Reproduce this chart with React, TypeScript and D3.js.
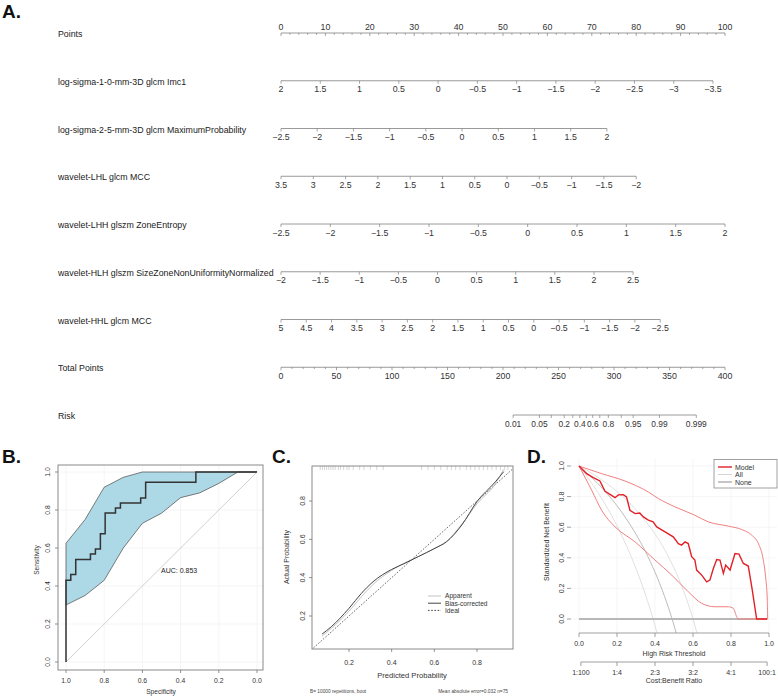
import React from 'react';
import * as d3 from 'd3';

// ---------- nomogram (A) ----------
const nomoLabels = [
  'Points',
  'log-sigma-1-0-mm-3D glcm Imc1',
  'log-sigma-2-5-mm-3D glcm MaximumProbability',
  'wavelet-LHL glcm MCC',
  'wavelet-LHH glszm ZoneEntropy',
  'wavelet-HLH glszm SizeZoneNonUniformityNormalized',
  'wavelet-HHL glcm MCC',
  'Total Points',
  'Risk',
];
const imc1Ticks = [2, 1.5, 1, 0.5, 0, -0.5, -1, -1.5, -2, -2.5, -3, -3.5];
const maxProbTicks = [-2.5, -2, -1.5, -1, -0.5, 0, 0.5, 1, 1.5, 2];
const lhlMccTicks = [3.5, 3, 2.5, 2, 1.5, 1, 0.5, 0, -0.5, -1, -1.5, -2];
const zoneEntTicks = [-2.5, -2, -1.5, -1, -0.5, 0, 0.5, 1, 1.5, 2];
const sznunTicks = [-2, -1.5, -1, -0.5, 0, 0.5, 1, 1.5, 2, 2.5];
const hhlMccTicks = [5, 4.5, 4, 3.5, 3, 2.5, 2, 1.5, 1, 0.5, 0, -0.5, -1, -1.5, -2, -2.5];
const varTicks = [imc1Ticks, maxProbTicks, lhlMccTicks, zoneEntTicks, sznunTicks, hhlMccTicks];
const varMaxPoints = [97.3, 73.4, 80.0, 100, 79.3, 85.4];
const pointsTicks = d3.range(0, 101, 10);
const totalTicks = d3.range(0, 401, 50);
const riskTicks = [0.01, 0.05, 0.1, 0.2, 0.3, 0.4, 0.5, 0.6, 0.7, 0.8, 0.9, 0.95, 0.99, 0.999];
const riskLabels = [0.01, 0.05, 0.2, 0.4, 0.6, 0.8, 0.95, 0.99, 0.999];
const riskLp = { intercept: -19.17, slope: 0.0697 };

// ---------- ROC (B) ----------
const rocSpec = [1, 1, 0.975, 0.975, 0.949, 0.949, 0.872, 0.872, 0.846, 0.846, 0.82, 0.82, 0.795, 0.795, 0.741, 0.741, 0.715, 0.715, 0.609, 0.609, 0.583, 0.583, 0.32, 0.32, 0];
const rocSens = [0, 0.43, 0.43, 0.46, 0.46, 0.54, 0.54, 0.568, 0.568, 0.595, 0.595, 0.675, 0.675, 0.784, 0.784, 0.81, 0.81, 0.837, 0.837, 0.863, 0.863, 0.946, 0.946, 1, 1];
const ciSpec = [1, 0.9, 0.8, 0.7, 0.6, 0.5, 0.4, 0.3, 0.2, 0.1, 0];
const ciUpper = [0.625, 0.75, 0.92, 0.972, 1, 1, 1, 1, 1, 1, 1];
const ciLower = [0.3, 0.35, 0.43, 0.6, 0.73, 0.783, 0.865, 0.89, 0.94, 1, 1];
const aucText = 'AUC: 0.853';

// ---------- calibration (C) ----------
const calPred = [0.074, 0.117, 0.2, 0.258, 0.313, 0.4, 0.462, 0.525, 0.603, 0.658, 0.729, 0.8, 0.886, 0.925];
const calBias = [0.106, 0.144, 0.24, 0.318, 0.379, 0.443, 0.475, 0.51, 0.553, 0.588, 0.675, 0.797, 0.9, 0.953];
const calApparent = [0.095, 0.135, 0.225, 0.3, 0.365, 0.438, 0.478, 0.51, 0.555, 0.59, 0.68, 0.785, 0.89, 0.965];
const rugValues = [0.065, 0.075, 0.085, 0.095, 0.105, 0.115, 0.125, 0.135, 0.15, 0.16, 0.175, 0.19, 0.2, 0.22, 0.25, 0.27, 0.3, 0.33, 0.36, 0.54, 0.57, 0.6, 0.63, 0.66, 0.68, 0.7, 0.72, 0.75, 0.77, 0.79, 0.81, 0.83, 0.85, 0.87, 0.89, 0.91, 0.93, 0.945];
const calTicks = [0.2, 0.4, 0.6, 0.8];
const calLegend = ['Apparent', 'Bias-corrected', 'Ideal'];

// ---------- decision curve (D) ----------
const modelT = [0, 0.04, 0.075, 0.11, 0.137, 0.163, 0.19, 0.207, 0.233, 0.25, 0.268, 0.295, 0.32, 0.339, 0.365, 0.39, 0.409, 0.453, 0.496, 0.523, 0.54, 0.558, 0.575, 0.593, 0.61, 0.619, 0.646, 0.672, 0.689, 0.707, 0.725, 0.742, 0.76, 0.772, 0.795, 0.821, 0.842, 0.865, 0.891, 0.912, 0.935, 0.99];
const modelNB = [1, 0.95, 0.924, 0.902, 0.835, 0.815, 0.793, 0.811, 0.813, 0.798, 0.711, 0.689, 0.693, 0.667, 0.646, 0.635, 0.602, 0.57, 0.537, 0.493, 0.483, 0.504, 0.493, 0.407, 0.385, 0.32, 0.287, 0.243, 0.254, 0.33, 0.389, 0.385, 0.298, 0.352, 0.32, 0.428, 0.424, 0.363, 0.346, 0.189, 0, 0];
const modelUpT = [0, 0.119, 0.242, 0.365, 0.418, 0.505, 0.61, 0.68, 0.786, 0.856, 0.909, 0.944, 0.97, 0.982, 0.991, 0.993];
const modelUpNB = [1, 0.95, 0.902, 0.83, 0.787, 0.733, 0.678, 0.635, 0.607, 0.585, 0.548, 0.493, 0.385, 0.276, 0.124, 0];
const modelLoT = [0, 0.067, 0.119, 0.19, 0.295, 0.4, 0.488, 0.575, 0.646, 0.716, 0.786, 0.812, 0.83, 0.839, 0.993];
const modelLoNB = [1, 0.841, 0.711, 0.602, 0.504, 0.385, 0.287, 0.178, 0.102, 0.08, 0.08, 0.07, 0.015, 0, 0];
const allT = [0, 0.05, 0.1, 0.15, 0.2, 0.25, 0.3, 0.35, 0.4, 0.45, 0.49, 0.512];
const allNB = [1, 0.945, 0.884, 0.816, 0.74, 0.653, 0.554, 0.44, 0.306, 0.149, 0, -0.093];
const allLoT = [0, 0.05, 0.1, 0.15, 0.2, 0.25, 0.3, 0.35, 0.39, 0.411];
const allLoNB = [1, 0.918, 0.826, 0.724, 0.609, 0.479, 0.33, 0.158, 0, -0.093];
const allHiT = [0, 0.05, 0.1, 0.15, 0.2, 0.25, 0.3, 0.35, 0.4, 0.45, 0.5, 0.55, 0.6, 0.621];
const allHiNB = [1, 0.965, 0.926, 0.882, 0.833, 0.778, 0.714, 0.641, 0.556, 0.455, 0.333, 0.185, 0, -0.093];
const dcaTicks = [0, 0.2, 0.4, 0.6, 0.8, 1];
const costT = [0.01, 0.2, 0.4, 0.6, 0.8, 0.99];
const costLabels = ['1:100', '1:4', '2:3', '3:2', '4:1', '100:1'];
const dcaLegend = ['Model', 'All', 'None'];

const FONT = 'Liberation Sans, Arial, Helvetica, sans-serif';
const fmt1 = d3.format('.1f');

const zip = (xs: number[], ys: number[]) => xs.map((x, i) => [x, ys[i]] as [number, number]);

function Nomogram() {
  const rowY = d3.scalePoint<string>().domain(nomoLabels).range([33, 415]);
  const ptsX = d3.scaleLinear().domain([0, 100]).range([281, 725]);
  const totX = d3.scaleLinear().domain([0, 400]).range([281, 725]);
  const logit = (p: number) => Math.log(p / (1 - p));
  const riskX = (p: number) => totX((logit(p) - riskLp.intercept) / riskLp.slope);
  const lineC = '#808080';
  const txtC = '#333';
  const fs = 8.8;

  return (
    <g fontFamily={FONT}>
      <text x={2} y={18} fontSize={19} fontWeight="bold" fill="#111">A.</text>
      {nomoLabels.map((l) => (
        <text key={l} x={58} y={(rowY(l) as number) + 4} fontSize={fs} fill="#222">{l}</text>
      ))}
      {/* Points */}
      {(() => {
        const y = rowY('Points') as number;
        return (
          <g>
            <line x1={ptsX(0)} x2={ptsX(100)} y1={y} y2={y} stroke={lineC} strokeWidth={0.8} />
            {d3.range(0, 101, 2).map((v) => (
              <line key={v} x1={ptsX(v)} x2={ptsX(v)} y1={y} y2={y + (v % 10 === 0 ? 3 : 1.8)} stroke={lineC} strokeWidth={0.7} />
            ))}
            {pointsTicks.map((v) => (
              <text key={v} x={ptsX(v)} y={y - 3.5} fontSize={fs} textAnchor="middle" fill={txtC}>{v}</text>
            ))}
          </g>
        );
      })()}
      {/* variables */}
      {varTicks.map((ticks, i) => {
        const y = rowY(nomoLabels[i + 1]) as number;
        const s = d3.scaleLinear().domain([ticks[0], ticks[ticks.length - 1]]).range([0, varMaxPoints[i]]);
        const x = (v: number) => ptsX(s(v));
        return (
          <g key={i}>
            <line x1={x(ticks[0])} x2={x(ticks[ticks.length - 1])} y1={y} y2={y} stroke={lineC} strokeWidth={0.8} />
            {ticks.map((v) => (
              <g key={v}>
                <line x1={x(v)} x2={x(v)} y1={y} y2={y + 3} stroke={lineC} strokeWidth={0.7} />
                <text x={x(v)} y={y + 11.5} fontSize={fs} textAnchor="middle" fill={txtC}>{v < 0 ? '\u2212' + Math.abs(v) : v}</text>
              </g>
            ))}
          </g>
        );
      })}
      {/* Total points */}
      {(() => {
        const y = rowY('Total Points') as number;
        return (
          <g>
            <line x1={totX(0)} x2={totX(400)} y1={y} y2={y} stroke={lineC} strokeWidth={0.8} />
            {d3.range(0, 401, 10).map((v) => (
              <line key={v} x1={totX(v)} x2={totX(v)} y1={y} y2={y + (v % 50 === 0 ? 3 : 1.8)} stroke={lineC} strokeWidth={0.7} />
            ))}
            {totalTicks.map((v) => (
              <text key={v} x={totX(v)} y={y + 11.5} fontSize={fs} textAnchor="middle" fill={txtC}>{v}</text>
            ))}
          </g>
        );
      })()}
      {/* Risk */}
      {(() => {
        const y = rowY('Risk') as number;
        return (
          <g>
            <line x1={riskX(riskTicks[0])} x2={riskX(riskTicks[riskTicks.length - 1])} y1={y} y2={y} stroke={lineC} strokeWidth={0.8} />
            {riskTicks.map((v) => (
              <line key={v} x1={riskX(v)} x2={riskX(v)} y1={y} y2={y + 3} stroke={lineC} strokeWidth={0.7} />
            ))}
            {riskLabels.map((v) => (
              <text key={v} x={riskX(v)} y={y + 11.5} fontSize={8.4} textAnchor="middle" fill={txtC}>{v}</text>
            ))}
          </g>
        );
      })()}
    </g>
  );
}

function RocPanel() {
  const x = d3.scaleLinear().domain([1, 0]).range([66, 257]);
  const y = d3.scaleLinear().domain([0, 1]).range([662, 472]);
  const frame = { x0: 58, x1: 263, y0: 465, y1: 670 };
  const ticks = d3.range(0, 1.01, 0.2);
  const line = d3.line<[number, number]>().x((d) => x(d[0])).y((d) => y(d[1]));
  const band = [...zip(ciSpec, ciUpper), ...zip(ciSpec, ciLower).reverse()];
  return (
    <g fontFamily={FONT}>
      <text x={2} y={463} fontSize={19} fontWeight="bold" fill="#111">B.</text>
      {ticks.map((t) => (
        <g key={t}>
          <line x1={x(t)} x2={x(t)} y1={frame.y0} y2={frame.y1} stroke="#efefef" strokeWidth={0.6} />
          <line x1={frame.x0} x2={frame.x1} y1={y(t)} y2={y(t)} stroke="#efefef" strokeWidth={0.6} />
        </g>
      ))}
      <path d={line(band) + 'Z'} fill="#add8e6" stroke="#4a4a4a" strokeWidth={0.7} />
      <line x1={x(1)} y1={y(0)} x2={x(0)} y2={y(1)} stroke="#d0d0d0" strokeWidth={1} />
      <path d={line(zip(rocSpec, rocSens)) || ''} fill="none" stroke="#333" strokeWidth={1.5} />
      <text x={161} y={573} fontSize={7} fill="#222">{aucText}</text>
      <rect x={frame.x0} y={frame.y0} width={frame.x1 - frame.x0} height={frame.y1 - frame.y0} fill="none" stroke="#8a8a8a" strokeWidth={1} />
      {ticks.map((t) => (
        <g key={'t' + t}>
          <line x1={x(t)} x2={x(t)} y1={frame.y1} y2={frame.y1 + 3} stroke="#666" strokeWidth={0.7} />
          <text x={x(t)} y={683} fontSize={6.8} textAnchor="middle" fill="#333">{fmt1(t)}</text>
          <line x1={frame.x0 - 3} x2={frame.x0} y1={y(t)} y2={y(t)} stroke="#666" strokeWidth={0.7} />
          <text transform={`translate(${50},${y(t)}) rotate(-90)`} fontSize={6.8} textAnchor="middle" fill="#333">{fmt1(t)}</text>
        </g>
      ))}
      <text x={161} y={694} fontSize={6.6} textAnchor="middle" fill="#333">Specificity</text>
      <text transform="translate(39,560) rotate(-90)" fontSize={6.6} textAnchor="middle" fill="#333">Sensitivity</text>
    </g>
  );
}

function CalPanel() {
  const x = d3.scaleLinear().domain([0.2, 0.8]).range([349, 477]);
  const y = d3.scaleLinear().domain([0.2, 0.8]).range([616, 501]);
  const frame = { x0: 312, x1: 513, y0: 466, y1: 649 };
  const line = d3.line<[number, number]>().x((d) => x(d[0])).y((d) => y(d[1])).curve(d3.curveMonotoneX);
  const lgStyle = [
    { c: '#c4c4c4', d: undefined },
    { c: '#444', d: undefined },
    { c: '#444', d: '1.6,1.6' },
  ];
  return (
    <g fontFamily={FONT}>
      <text x={272} y={463} fontSize={19} fontWeight="bold" fill="#111">C.</text>
      <defs>
        <clipPath id="calClip">
          <rect x={frame.x0} y={frame.y0} width={frame.x1 - frame.x0} height={frame.y1 - frame.y0} />
        </clipPath>
      </defs>
      <g clipPath="url(#calClip)">
        <line x1={x(0)} y1={y(0)} x2={x(1)} y2={y(1)} stroke="#444" strokeWidth={0.8} strokeDasharray="1.6,1.6" />
        <path d={line(zip(calPred, calApparent)) || ''} fill="none" stroke="#c4c4c4" strokeWidth={1} />
        <path d={line(zip(calPred, calBias)) || ''} fill="none" stroke="#444" strokeWidth={1} />
      </g>
      {rugValues.map((v, i) => (
        <line key={i} x1={x(v)} x2={x(v)} y1={frame.y0} y2={frame.y0 + 4} stroke="#bbb" strokeWidth={0.6} />
      ))}
      <rect x={frame.x0} y={frame.y0} width={frame.x1 - frame.x0} height={frame.y1 - frame.y0} fill="none" stroke="#8a8a8a" strokeWidth={1} />
      {calTicks.map((t) => (
        <g key={t}>
          <line x1={x(t)} x2={x(t)} y1={frame.y1} y2={frame.y1 + 3} stroke="#666" strokeWidth={0.7} />
          <text x={x(t)} y={665} fontSize={7} textAnchor="middle" fill="#333">{t}</text>
          <line x1={frame.x0 - 3} x2={frame.x0} y1={y(t)} y2={y(t)} stroke="#666" strokeWidth={0.7} />
          <text transform={`translate(${305},${y(t)}) rotate(-90)`} fontSize={7} textAnchor="middle" fill="#333">{t}</text>
        </g>
      ))}
      <text x={412} y={678} fontSize={7.6} textAnchor="middle" fill="#333">Predicted Probability</text>
      <text transform="translate(289,557) rotate(-90)" fontSize={7} textAnchor="middle" fill="#333">Actual Probability</text>
      <text x={310} y={693} fontSize={4.8} fill="#444">B= 10000 repetitions, boot</text>
      <text x={508} y={693} fontSize={4.8} textAnchor="end" fill="#444">Mean absolute error=0.032 n=75</text>
      {calLegend.map((n, i) => (
        <g key={n}>
          <line x1={428} x2={441} y1={596 + i * 7.2} y2={596 + i * 7.2} stroke={lgStyle[i].c} strokeWidth={1} strokeDasharray={lgStyle[i].d} />
          <text x={445} y={598.3 + i * 7.2} fontSize={6.6} fill="#333">{n}</text>
        </g>
      ))}
    </g>
  );
}

function DcaPanel() {
  const x = d3.scaleLinear().domain([0, 1]).range([579, 769]);
  const y = d3.scaleLinear().domain([0, 1]).range([619, 466]);
  const plot = { x0: 571, x1: 777, y0: 458, y1: 633 };
  const line = d3.line<[number, number]>().x((d) => x(d[0])).y((d) => y(d[1]));
  const smooth = d3.line<[number, number]>().x((d) => x(d[0])).y((d) => y(d[1])).curve(d3.curveMonotoneX);
  const lgColor = ['#e32027', '#d4d4d4', '#8c8c8c'];
  const lgWidth = [1.4, 1, 1];
  return (
    <g fontFamily={FONT}>
      <text x={527} y={463} fontSize={19} fontWeight="bold" fill="#111">D.</text>
      <defs>
        <clipPath id="dcaClip">
          <rect x={plot.x0} y={plot.y0} width={plot.x1 - plot.x0} height={plot.y1 - plot.y0} />
        </clipPath>
      </defs>
      {dcaTicks.map((t) => (
        <g key={t}>
          <line x1={x(t)} x2={x(t)} y1={plot.y0} y2={plot.y1} stroke="#f0f0f0" strokeWidth={0.6} />
          <line x1={plot.x0} x2={plot.x1} y1={y(t)} y2={y(t)} stroke="#f0f0f0" strokeWidth={0.6} />
        </g>
      ))}
      <g clipPath="url(#dcaClip)">
        <path d={smooth(zip(allLoT, allLoNB)) || ''} fill="none" stroke="#dcdcdc" strokeWidth={0.9} />
        <path d={smooth(zip(allHiT, allHiNB)) || ''} fill="none" stroke="#dcdcdc" strokeWidth={0.9} />
        <path d={smooth(zip(allT, allNB)) || ''} fill="none" stroke="#b4b4b4" strokeWidth={0.9} />
        <line x1={x(0)} x2={x(0.99)} y1={y(0)} y2={y(0)} stroke="#b8b8b8" strokeWidth={1.8} />
        <path d={smooth(zip(modelUpT, modelUpNB)) || ''} fill="none" stroke="#f08080" strokeWidth={1} />
        <path d={smooth(zip(modelLoT, modelLoNB)) || ''} fill="none" stroke="#f08080" strokeWidth={1} />
        <path d={line(zip(modelT, modelNB)) || ''} fill="none" stroke="#e32027" strokeWidth={1.4} />
      </g>
      {/* x axis */}
      <line x1={x(0)} x2={x(1)} y1={633} y2={633} stroke="#888" strokeWidth={0.8} />
      {dcaTicks.map((t) => (
        <g key={'x' + t}>
          <line x1={x(t)} x2={x(t)} y1={633} y2={637} stroke="#888" strokeWidth={0.8} />
          <text x={x(t)} y={646} fontSize={7} textAnchor="middle" fill="#333">{fmt1(t)}</text>
        </g>
      ))}
      <text x={674} y={656} fontSize={7} textAnchor="middle" fill="#333">High Risk Threshold</text>
      {/* cost:benefit axis */}
      <line x1={x(costT[0])} x2={x(costT[costT.length - 1])} y1={662} y2={662} stroke="#888" strokeWidth={0.8} />
      {costT.map((t, i) => (
        <g key={'c' + t}>
          <line x1={x(t)} x2={x(t)} y1={662} y2={666} stroke="#888" strokeWidth={0.8} />
          <text x={x(t)} y={675} fontSize={7} textAnchor="middle" fill="#333">{costLabels[i]}</text>
        </g>
      ))}
      <text x={674} y={683} fontSize={7} textAnchor="middle" fill="#333">Cost:Benefit Ratio</text>
      {/* y axis */}
      {dcaTicks.map((t) => (
        <g key={'y' + t}>
          <line x1={567} x2={571} y1={y(t)} y2={y(t)} stroke="#888" strokeWidth={0.8} />
          <text transform={`translate(${563.5},${y(t)}) rotate(-90)`} fontSize={7} textAnchor="middle" fill="#333">{fmt1(t)}</text>
        </g>
      ))}
      <text transform="translate(549,542) rotate(-90)" fontSize={7} textAnchor="middle" fill="#333">Standardized Net Benefit</text>
      {/* legend */}
      <rect x={714} y={459.5} width={63} height={28.5} fill="#fff" stroke="#8a8a8a" strokeWidth={0.8} />
      {dcaLegend.map((n, i) => (
        <g key={n}>
          <line x1={718} x2={732} y1={467 + i * 7.5} y2={467 + i * 7.5} stroke={lgColor[i]} strokeWidth={lgWidth[i]} />
          <text x={735} y={469.5 + i * 7.5} fontSize={7} fill="#333">{n}</text>
        </g>
      ))}
    </g>
  );
}

export default function App() {
  return (
    <div style={{ position: 'absolute', left: 0, top: 0, background: '#fff' }}>
      <svg width={778} height={696} viewBox="0 0 778 696" style={{ display: 'block' }}>
        <rect width={778} height={696} fill="#fff" />
        <Nomogram />
        <RocPanel />
        <CalPanel />
        <DcaPanel />
      </svg>
    </div>
  );
}
